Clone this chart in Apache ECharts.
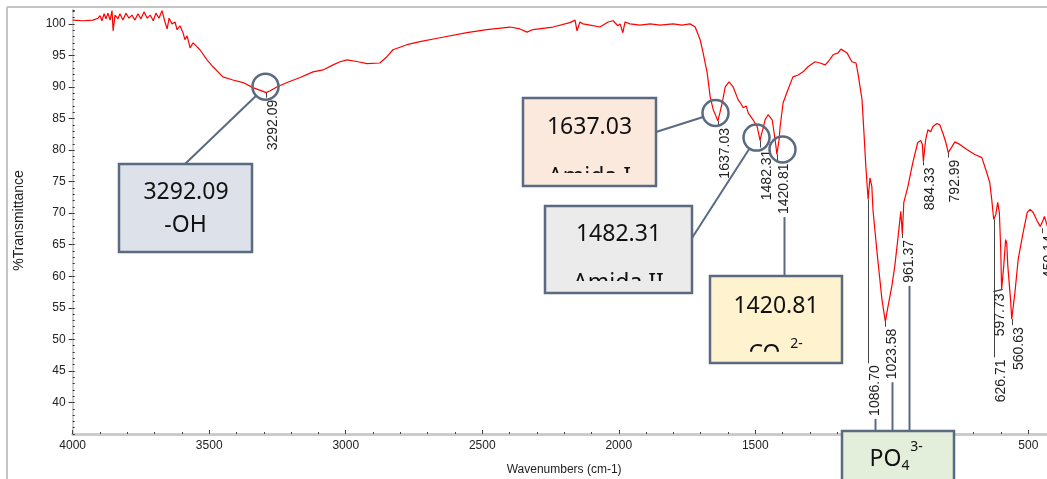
<!DOCTYPE html>
<html>
<head>
<meta charset="utf-8">
<script src="https://cdn.jsdelivr.net/npm/echarts@6/dist/echarts.min.js"></script>
<style>
html, body { margin: 0; padding: 0; background: #fff; }
#chart { width: 1047px; height: 479px; }
</style>
</head>
<body>
<div id="chart"></div>
<script>
// spectrum (cm-1, %T)
var wavenumbers = [4000, 3962, 3926, 3907, 3900, 3893, 3885, 3878, 3871, 3863, 3856, 3852, 3845, 3834, 3827, 3816, 3805, 3794, 3783, 3772,
  3761, 3750, 3739, 3727, 3716, 3705, 3695, 3684, 3673, 3662, 3654, 3647, 3636, 3625, 3618, 3607, 3596, 3589, 3581, 3570,
  3559, 3545, 3534, 3508, 3486, 3450, 3413, 3376, 3340, 3303, 3292.09, 3277, 3252, 3215, 3167, 3120, 3083, 3046, 3021, 2995,
  2955, 2922, 2875, 2849, 2827, 2776, 2728, 2655, 2556, 2483, 2398, 2362, 2336, 2314, 2241, 2179, 2160, 2153, 2142, 2131,
  2105, 2069, 2039, 2021, 2003, 1995, 1985, 1977, 1959, 1922, 1885, 1849, 1801, 1768, 1739, 1720, 1713, 1702, 1691, 1676,
  1665, 1654, 1643, 1640, 1637.03, 1629, 1621, 1610, 1596, 1581, 1563, 1552, 1544, 1533, 1526, 1508, 1493, 1482.31, 1477, 1474,
  1464, 1453, 1438, 1431, 1424, 1420.81, 1413, 1409, 1398, 1380, 1362, 1343, 1325, 1307, 1281, 1263, 1244, 1233, 1215, 1197,
  1186, 1179, 1164, 1146, 1131, 1124, 1109, 1102, 1095, 1086.70, 1080, 1073, 1069, 1055, 1036, 1023.58, 1014, 1000, 989, 978,
  967, 961.37, 956, 941, 923, 905, 894, 888, 884.33, 876, 868, 857, 850, 835, 824, 813, 802, 792.99, 780, 769,
  751, 725, 696, 670, 652, 641, 634, 626.71, 619, 612, 606, 601, 597.73, 590, 583, 579, 575, 565, 560.63, 549,
  537, 519, 504, 493, 482, 467, 456, 450.14, 445, 441, 430];
var transmittance = [100.6, 100.5, 100.6, 100.9, 101.3, 100.5, 101.6, 100.8, 101.7, 100.6, 102.1, 98.9, 101.4, 100.8, 101.6, 100.6, 101.7, 100.9, 101.4, 100.6,
  101.6, 100.8, 101.9, 100.9, 101.4, 100.5, 101.7, 100.9, 102.1, 100.3, 99.2, 100.9, 100.0, 100.3, 99.1, 99.7, 98.6, 97.5, 98.1, 96.2,
  97.0, 96.4, 95.9, 94.3, 93.2, 91.6, 91.1, 90.7, 89.9, 89.3, 89.1, 89.4, 90.0, 90.7, 91.5, 92.4, 92.7, 93.5, 94.0, 94.3,
  94.0, 93.7, 93.8, 94.8, 95.9, 96.7, 97.2, 97.8, 98.6, 99.1, 99.5, 99.2, 98.7, 99.1, 99.5, 100.2, 100.6, 98.9, 100.3, 100.0,
  99.8, 99.5, 100.3, 100.5, 99.7, 100.0, 98.6, 100.3, 100.0, 99.8, 100.0, 99.8, 100.0, 99.8, 100.0, 99.5, 98.7, 97.5, 95.4, 92.2,
  88.4, 86.4, 85.3, 85.6, 84.6, 86.0, 87.5, 90.0, 90.8, 90.0, 88.0, 87.3, 86.7, 87.0, 85.9, 84.8, 83.7, 81.5, 82.6, 83.0,
  84.8, 85.6, 84.8, 82.7, 80.5, 79.3, 81.6, 83.7, 87.5, 89.6, 91.6, 91.9, 92.4, 93.2, 94.0, 93.8, 93.5, 94.0, 95.1, 95.4,
  96.0, 96.2, 95.4, 94.0, 93.8, 92.2, 88.0, 82.8, 77.4, 72.2, 75.6, 74.2, 70.6, 64.2, 56.3, 52.8, 55.2, 58.4, 61.6, 65.8,
  70.3, 66.7, 71.7, 74.2, 78.0, 81.2, 81.5, 80.9, 78.2, 81.6, 83.2, 82.9, 83.7, 84.2, 84.0, 82.7, 81.2, 79.6, 80.5, 81.3,
  80.9, 80.1, 79.3, 78.8, 76.4, 74.8, 72.2, 69.0, 69.8, 71.7, 70.1, 64.2, 57.9, 61.6, 65.8, 65.3, 61.6, 56.3, 53.2, 57.4,
  62.7, 66.9, 70.1, 70.6, 70.1, 68.7, 67.9, 67.6, 69.0, 69.5, 67.9];

var peakLabels = ['3292.09', '1637.03', '1482.31', '1420.81', '1086.70', '1023.58', '961.37', '884.33', '792.99', '626.71', '597.73', '560.63', '450.14'];
var peakWn = [3292.09, 1637.03, 1482.31, 1420.81, 1086.70, 1023.58, 961.37, 884.33, 792.99, 626.71, 597.73, 560.63, 450.14];
var peakT = [89.1, 84.6, 81.5, 79.3, 72.2, 52.8, 66.7, 78.2, 79.6, 69.0, 57.9, 53.2, 67.6];

var xTicks = [4000, 3500, 3000, 2500, 2000, 1500, 1000, 500];
var yTicks = [40, 45, 50, 55, 60, 65, 70, 75, 80, 85, 90, 95, 100];

// layout of the peak marks (px): tick length and sideways shift of the label
var peakTickLen = [5, 5, 7, 7, 164, 5, 4, 4, 5, 138, 2, 6, 5];
var peakShift = [0, 0, 0, 0, 0, 0, 0, 0, 0, 0, -9, 0, 0];

var labelFont = '14px "Liberation Sans", Arial, sans-serif';
var boxFont = '23px "Noto Sans", "Open Sans", sans-serif';
var smallFont = '14px "Noto Sans", "Open Sans", sans-serif';
var slate = '#5a6a80';

var pts = [];
for (var i = 0; i < wavenumbers.length; i++) pts.push([wavenumbers[i], transmittance[i]]);

var chart = echarts.init(document.getElementById('chart'));
chart.setOption({
  animation: false,
  grid: { left: 72.7, right: -8.6, top: 10, bottom: 45, containLabel: false, outerBoundsMode: 'none' },
  xAxis: [{
    type: 'value', inverse: true, min: 400, max: 4000, interval: 100,
    name: 'Wavenumbers (cm-1)', nameLocation: 'middle', nameGap: 30,
    nameTextStyle: { fontSize: 12, color: '#222', fontFamily: 'Liberation Sans' },
    axisLine: { lineStyle: { color: '#cccccc', width: 3 } },
    axisTick: { inside: true, length: 2, lineStyle: { color: '#444' } },
    axisLabel: {
      margin: 6, fontSize: 12, color: '#222', fontFamily: 'Liberation Sans',
      formatter: function (v) { return v % 500 === 0 ? String(v) : ''; }
    },
    splitLine: { show: false }
  }, {
    type: 'value', inverse: true, min: 400, max: 4000, position: 'bottom',
    axisLine: { show: false },
    axisTick: { inside: true, length: 4, customValues: xTicks, lineStyle: { color: '#444' } },
    axisLabel: { show: false },
    splitLine: { show: false }
  }],
  yAxis: [{
    type: 'value', min: 35, max: 102.2, interval: 1,
    axisLine: { show: true, lineStyle: { color: '#d0d0d0', width: 2 } },
    axisTick: { inside: true, length: 2, lineStyle: { color: '#333' } },
    axisLabel: {
      margin: 7, fontSize: 12, color: '#222', fontFamily: 'Liberation Sans',
      formatter: function (v) { return (v % 5 === 0 && v >= 40 && v <= 100) ? String(v) : ''; }
    },
    splitLine: { show: false }
  }, {
    type: 'value', min: 35, max: 102.2, position: 'left',
    axisLine: { show: false },
    axisTick: { length: 4, customValues: yTicks, lineStyle: { color: '#333' } },
    axisLabel: { show: false },
    splitLine: { show: false }
  }],
  series: [{
    type: 'line', xAxisIndex: 0, yAxisIndex: 0, data: pts,
    showSymbol: false, silent: true,
    lineStyle: { color: '#ff0000', width: 1.2 }
  }]
});

// annotations
var ctx = document.createElement('canvas').getContext('2d');
ctx.font = labelFont;
function toPx(wn, t) { return chart.convertToPixel({ seriesIndex: 0 }, [wn, t]); }

var g = [];
// frame
g.push({ type: 'line', shape: { x1: 7, y1: 7, x2: 1047, y2: 7 }, style: { stroke: '#c4c4c4', lineWidth: 2 } });
g.push({ type: 'line', shape: { x1: 7, y1: 7, x2: 7, y2: 479 }, style: { stroke: '#c4c4c4', lineWidth: 2 } });
g.push({ type: 'text', x: 12, y: 220.5, rotation: Math.PI / 2,
  style: { text: '%Transmittance', font: labelFont, fill: '#222', align: 'center', verticalAlign: 'top' } });

var labelBottom = {};
var peakPx = {};
for (var k = 0; k < peakWn.length; k++) {
  var p = toPx(peakWn[k], peakT[k]);
  var x = Math.round(p[0]) + 0.5;
  var yEnd = p[1] + peakTickLen[k];
  var lx = x + peakShift[k];
  peakPx[peakLabels[k]] = [lx, p[1]];
  g.push({ type: 'polyline', z: 5, shape: { points: [[x, p[1]], [lx, yEnd], [lx, yEnd]] },
    style: { stroke: '#444', lineWidth: 1, fill: null } });
  if (peakShift[k]) {
    g.push({ type: 'line', z: 5, shape: { x1: x, y1: p[1], x2: lx, y2: p[1] + 2 }, style: { stroke: '#444', lineWidth: 1 } });
  }
  g.push({ type: 'text', z: 5, x: lx, y: yEnd + 2, rotation: Math.PI / 2,
    style: { text: peakLabels[k], font: labelFont, fill: '#222', align: 'right', verticalAlign: 'top' } });
  labelBottom[peakLabels[k]] = yEnd + 2 + ctx.measureText(peakLabels[k]).width;
}

// circles around the marked bands, offset from the band minimum
var circles = [['3292.09', -1, -6], ['1637.03', -3, -8], ['1482.31', -4, -3], ['1420.81', 5, -5]];
var circleC = {};
circles.forEach(function (c) {
  var b = peakPx[c[0]];
  circleC[c[0]] = [b[0] + c[1], b[1] + c[2]];
  g.push({ type: 'circle', z: 20, shape: { cx: b[0] + c[1], cy: b[1] + c[2], r: 13 },
    style: { fill: 'none', stroke: slate, lineWidth: 2.5 } });
});

function leader(from, key) {
  var c = circleC[key];
  var dx = from[0] - c[0], dy = from[1] - c[1], d = Math.sqrt(dx * dx + dy * dy);
  g.push({ type: 'line', z: 20, shape: { x1: from[0], y1: from[1], x2: c[0] + dx / d * 13, y2: c[1] + dy / d * 13 },
    style: { stroke: slate, lineWidth: 2 } });
}
leader([185, 164], '3292.09');
leader([656, 132], '1637.03');
leader([692, 238], '1482.31');

function stem(key, yTo) {
  var x = peakPx[key][0] + 7;
  g.push({ type: 'line', z: 20, shape: { x1: x, y1: labelBottom[key] + 3, x2: x, y2: yTo },
    style: { stroke: slate, lineWidth: 2 } });
}
stem('1420.81', 276);
stem('1086.70', 431);
stem('1023.58', 431);
stem('961.37', 431);

var boxes = [
  { x: 119, y: 164, w: 133, h: 88, fill: '#dde2ea', lines: [['3292.09', 186, 192.5], ['-OH', 185.5, 225.5]] },
  { x: 523, y: 98, w: 133, h: 88, fill: '#fbe9de', clip: 173, lines: [['1637.03', 589.5, 127.5], ['Amida I', 589.5, 177.5]] },
  { x: 545, y: 206, w: 147, h: 87, fill: '#ebebeb', clip: 281, lines: [['1482.31', 618.5, 234.5], ['Amida II', 618.5, 283.5]] },
  { x: 710, y: 276, w: 132, h: 87, fill: '#fff2cf', clip: 351.7, lines: [['1420.81', 776, 306], ['CO', 764.5, 354]],
    small: [['2-', 796.5, 344.5]] },
  { x: 842, y: 431, w: 112, h: 70, fill: '#e4efdb', lines: [['PO', 885.5, 459.5]], small: [['4', 905.5, 466], ['3-', 916.5, 447.5]] }
];
boxes.forEach(function (b) {
  g.push({ type: 'rect', z: 30, shape: { x: b.x, y: b.y, width: b.w, height: b.h }, style: { fill: b.fill } });
  b.lines.forEach(function (t) {
    g.push({ type: 'text', z: 31, x: t[1], y: t[2],
      style: { text: t[0], font: boxFont, fill: '#111', align: 'center', verticalAlign: 'middle' } });
  });
  (b.small || []).forEach(function (t) {
    g.push({ type: 'text', z: 31, x: t[1], y: t[2],
      style: { text: t[0], font: smallFont, fill: '#111', align: 'center', verticalAlign: 'middle' } });
  });
  if (b.clip) {
    g.push({ type: 'rect', z: 32, shape: { x: b.x + 1, y: b.clip, width: b.w - 2, height: b.y + b.h - b.clip - 1 },
      style: { fill: b.fill } });
  }
  g.push({ type: 'rect', z: 33, shape: { x: b.x, y: b.y, width: b.w, height: b.h },
    style: { fill: 'none', stroke: slate, lineWidth: 2.5 } });
});

chart.setOption({ graphic: { elements: g } });
</script>
</body>
</html>
